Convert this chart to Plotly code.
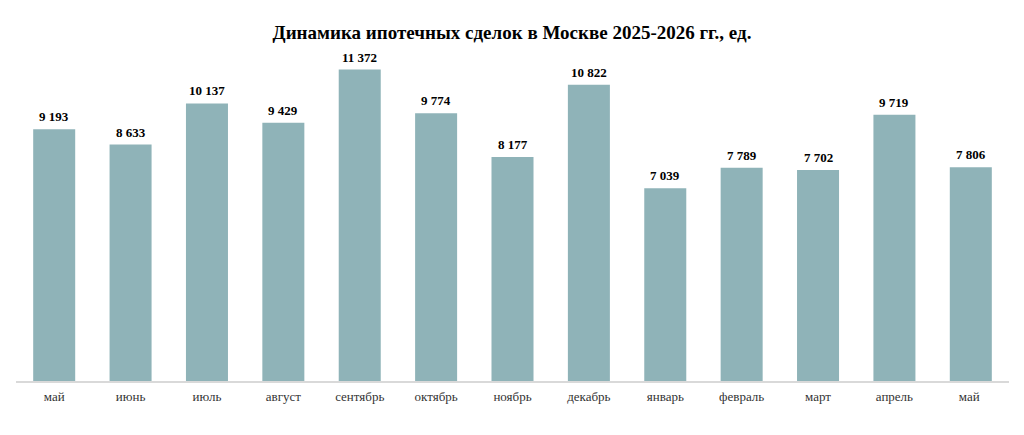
import plotly.graph_objects as go

months = ["май", "июнь", "июль", "август", "сентябрь", "октябрь", "ноябрь",
          "декабрь", "январь", "февраль", "март", "апрель", "май "]
deals = [9193, 8633, 10137, 9429, 11372, 9774, 8177, 10822, 7039, 7789, 7702, 9719, 7806]
labels = [f"{v:,}".replace(",", " ") for v in deals]

SERIF = "Liberation Serif, Times New Roman, serif"

fig = go.Figure(go.Bar(
    x=months, y=deals,
    marker=dict(color="#8FB3B8", line=dict(width=0)),
    width=0.55, cliponaxis=False,
))

for m, v, t in zip(months, deals, labels):
    fig.add_annotation(x=m, y=v, text=f"<b>{t}</b>", showarrow=False,
                       yanchor="bottom", yshift=3,
                       font=dict(family=SERIF, size=13, color="#000000"))

fig.update_layout(
    width=1024, height=435,
    margin=dict(l=16, r=15, t=25, b=54),
    paper_bgcolor="white", plot_bgcolor="white",
    title=dict(text="<b>Динамика ипотечных сделок в Москве 2025-2026 гг., ед.</b>",
               x=0.5, xanchor="center", y=1 - 32 / 435, yanchor="middle",
               yref="container",
               font=dict(family=SERIF, size=19, color="#000000")),
    showlegend=False,
    xaxis=dict(showline=True, linecolor="#D9D9D9", linewidth=1.5,
               ticks="", ticklabelstandoff=3,
               tickfont=dict(family=SERIF, size=13, color="#333333"),
               showgrid=False),
    yaxis=dict(range=[0, 13000], visible=False, showgrid=False),
)

fig.write_html("out.html")
